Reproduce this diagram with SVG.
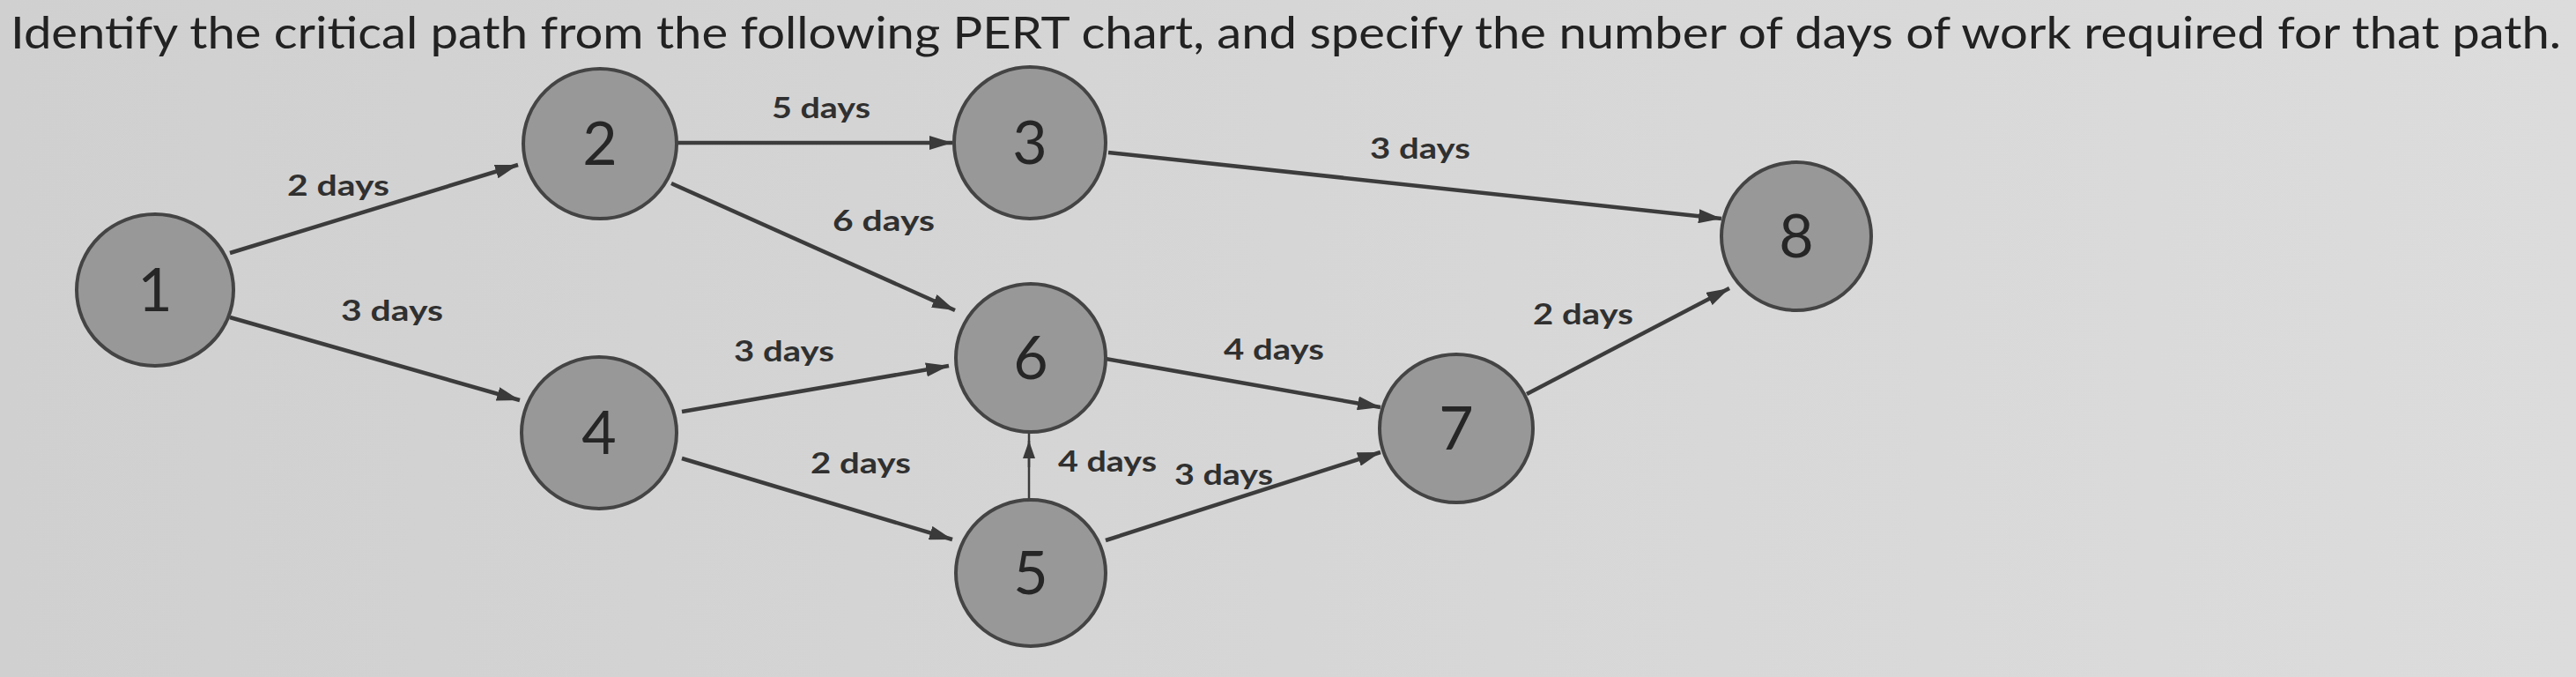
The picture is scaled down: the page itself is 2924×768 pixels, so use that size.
<svg xmlns="http://www.w3.org/2000/svg" width="2924" height="768" viewBox="0 0 2924 768">
  <defs>
    <linearGradient id="bg" x1="0" y1="0" x2="1" y2="0">
      <stop offset="0" stop-color="#d0d0d0"/>
      <stop offset="1" stop-color="#dcdcdc"/>
    </linearGradient>
    <marker id="arr" markerUnits="userSpaceOnUse" markerWidth="28" markerHeight="16" refX="26" refY="8" orient="auto">
      <path d="M0,0 L26,8 L0,16 z" fill="#3a3a3a"/>
    </marker>
    <marker id="arrs" markerUnits="userSpaceOnUse" markerWidth="22" markerHeight="14" refX="20" refY="7" orient="auto">
      <path d="M0,0 L20,7 L0,14 z" fill="#3a3a3a"/>
    </marker>
  </defs>
  <style>
    .title { font-family: Lato, "Open Sans", "Liberation Sans", sans-serif; font-size: 51px; fill: #222222; }
    .node ellipse { fill: #989898; stroke: #444444; stroke-width: 4; }
    .node text { font-family: Lato, "Open Sans", "Liberation Sans", sans-serif; font-size: 68px; fill: #262626; text-anchor: middle; }
    .edge { stroke: #3c3c3c; stroke-width: 4.5; fill: none; marker-end: url(#arr); }
    .thin { stroke: #3c3c3c; stroke-width: 2.5; fill: none; }
    .lbl { font-family: Lato, "Liberation Sans", sans-serif; font-weight: bold; font-size: 33px; fill: #303030; text-anchor: middle; }
  </style>
  <rect x="0" y="0" width="2924" height="768" fill="url(#bg)"/>
  <text class="title" x="12" y="55" textLength="2895" lengthAdjust="spacingAndGlyphs">Identify the critical path from the following PERT chart, and specify the number of days of work required for that path.</text>

  <g id="connectors">
    <line class="edge" x1="261" y1="287" x2="588" y2="187"/>
    <line class="edge" x1="261" y1="360" x2="590" y2="454"/>
    <line class="edge" x1="768" y1="162" x2="1081" y2="162"/>
    <line class="edge" x1="762" y1="208" x2="1084" y2="352"/>
    <line class="edge" x1="1258" y1="173" x2="1954" y2="248"/>
    <line class="edge" x1="774" y1="467" x2="1077" y2="415"/>
    <line class="edge" x1="774" y1="520" x2="1081" y2="612"/>
    <line class="edge" x1="1255" y1="407" x2="1567" y2="462"/>
    <line class="thin" x1="1168" y1="567" x2="1168" y2="490"/>
    <line class="thin" x1="1168" y1="530" x2="1168" y2="500" marker-end="url(#arrs)"/>
    <line class="edge" x1="1255" y1="613" x2="1567" y2="513"/>
    <line class="edge" x1="1733" y1="447" x2="1963" y2="327"/>
  </g>

  <g id="labels">
    <text class="lbl" x="384" y="222" textLength="116" lengthAdjust="spacingAndGlyphs">2 days</text>
    <text class="lbl" x="932" y="134" textLength="112" lengthAdjust="spacingAndGlyphs">5 days</text>
    <text class="lbl" x="1003" y="262" textLength="116" lengthAdjust="spacingAndGlyphs">6 days</text>
    <text class="lbl" x="1612" y="180" textLength="114" lengthAdjust="spacingAndGlyphs">3 days</text>
    <text class="lbl" x="445" y="364" textLength="116" lengthAdjust="spacingAndGlyphs">3 days</text>
    <text class="lbl" x="890" y="410" textLength="114" lengthAdjust="spacingAndGlyphs">3 days</text>
    <text class="lbl" x="1797" y="368" textLength="114" lengthAdjust="spacingAndGlyphs">2 days</text>
    <text class="lbl" x="1446" y="408" textLength="114" lengthAdjust="spacingAndGlyphs">4 days</text>
    <text class="lbl" x="977" y="537" textLength="114" lengthAdjust="spacingAndGlyphs">2 days</text>
    <text class="lbl" x="1257" y="535" textLength="112" lengthAdjust="spacingAndGlyphs">4 days</text>
    <text class="lbl" x="1389" y="550" textLength="112" lengthAdjust="spacingAndGlyphs">3 days</text>
  </g>

  <g id="node1" class="node"><ellipse cx="176" cy="329" rx="89" ry="86"/><text x="176" y="353">1</text></g>
  <g id="node2" class="node"><ellipse cx="681" cy="163" rx="87" ry="85"/><text x="681" y="187">2</text></g>
  <g id="node3" class="node"><ellipse cx="1169" cy="162" rx="86" ry="86"/><text x="1169" y="186">3</text></g>
  <g id="node4" class="node"><ellipse cx="680" cy="491" rx="88" ry="86"/><text x="680" y="515">4</text></g>
  <g id="node5" class="node"><ellipse cx="1170" cy="650" rx="85" ry="83"/><text x="1170" y="674">5</text></g>
  <g id="node6" class="node"><ellipse cx="1170" cy="406" rx="85" ry="84"/><text x="1170" y="430">6</text></g>
  <g id="node7" class="node"><ellipse cx="1653" cy="486" rx="87" ry="84"/><text x="1653" y="510">7</text></g>
  <g id="node8" class="node"><ellipse cx="2039" cy="268" rx="85" ry="84"/><text x="2039" y="292">8</text></g>
</svg>
